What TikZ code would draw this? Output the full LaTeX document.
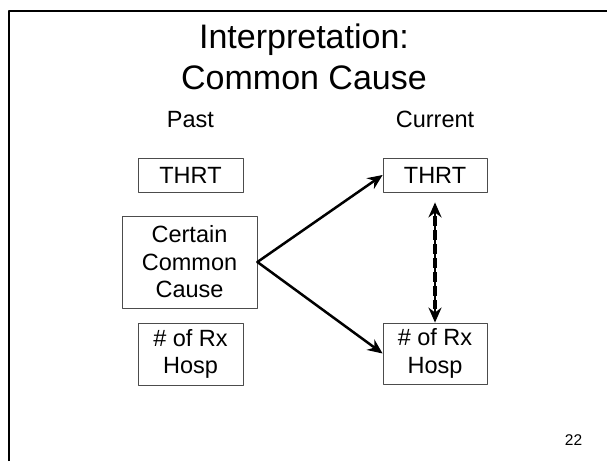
\documentclass[tikz,border=0pt]{standalone}
\usepackage{fontspec}
\setmainfont{Liberation Sans}
\usetikzlibrary{arrows.meta}

\begin{document}
\begin{tikzpicture}[line cap=round,line join=round,>={Stealth[length=15pt,width=13pt,inset=5pt]},x=1pt,y=-1pt,
  box/.style={draw=black!70,line width=0.8pt,inner sep=0pt,align=center,font=\fontsize{23.5}{27.5}\selectfont},
  head/.style={anchor=base,font=\fontsize{23.5}{27.5}\selectfont},
  link/.style={->,line width=2.5pt}]
\useasboundingbox (0,0) rectangle (607,461);
% slide frame
\draw[line width=2pt,line cap=butt] (9,461) -- (9,11) -- (607,11);
% title
\node[anchor=base,font=\fontsize{34}{42}\selectfont] (title1) at (304,48) {Interpretation:};
\node[anchor=base,font=\fontsize{34}{42}\selectfont] (title2) at (304,89) {Common Cause};
\node[head] (past) at (190.5,127) {Past};
\node[head] (curr) at (435,127) {Current};
% past
\node[box,minimum width=105pt,minimum height=34pt] (pthrt) at (190.5,175) {THRT};
\node[box,minimum width=135pt,minimum height=92pt] (pcause) at (189.5,262) {Certain\\Common\\Cause};
\node[box,minimum width=105pt,minimum height=62pt] (prx) at (190.5,354) {\# of Rx\\Hosp};
% current
\node[box,minimum width=104pt,minimum height=34pt] (cthrt) at (435,175) {THRT};
\node[box,minimum width=104pt,minimum height=61pt] (crx) at (435,353.5) {\# of Rx\\Hosp};
% arrows
\draw[link] (pcause.east) -- (cthrt.west);
\draw[link] (pcause.east) -- (crx.west);
\draw[<->,line width=2.5pt,shorten <=10pt] (cthrt.south) -- (crx.north);
\draw[line width=4pt,dash pattern=on 10pt off 4pt,line cap=butt,shorten <=24pt,shorten >=14pt] (cthrt.south) -- (crx.north);
\node[anchor=base,font=\fontsize{15.5}{18}\selectfont] (pnum) at (573.5,445) {22};
\end{tikzpicture}
\end{document}
